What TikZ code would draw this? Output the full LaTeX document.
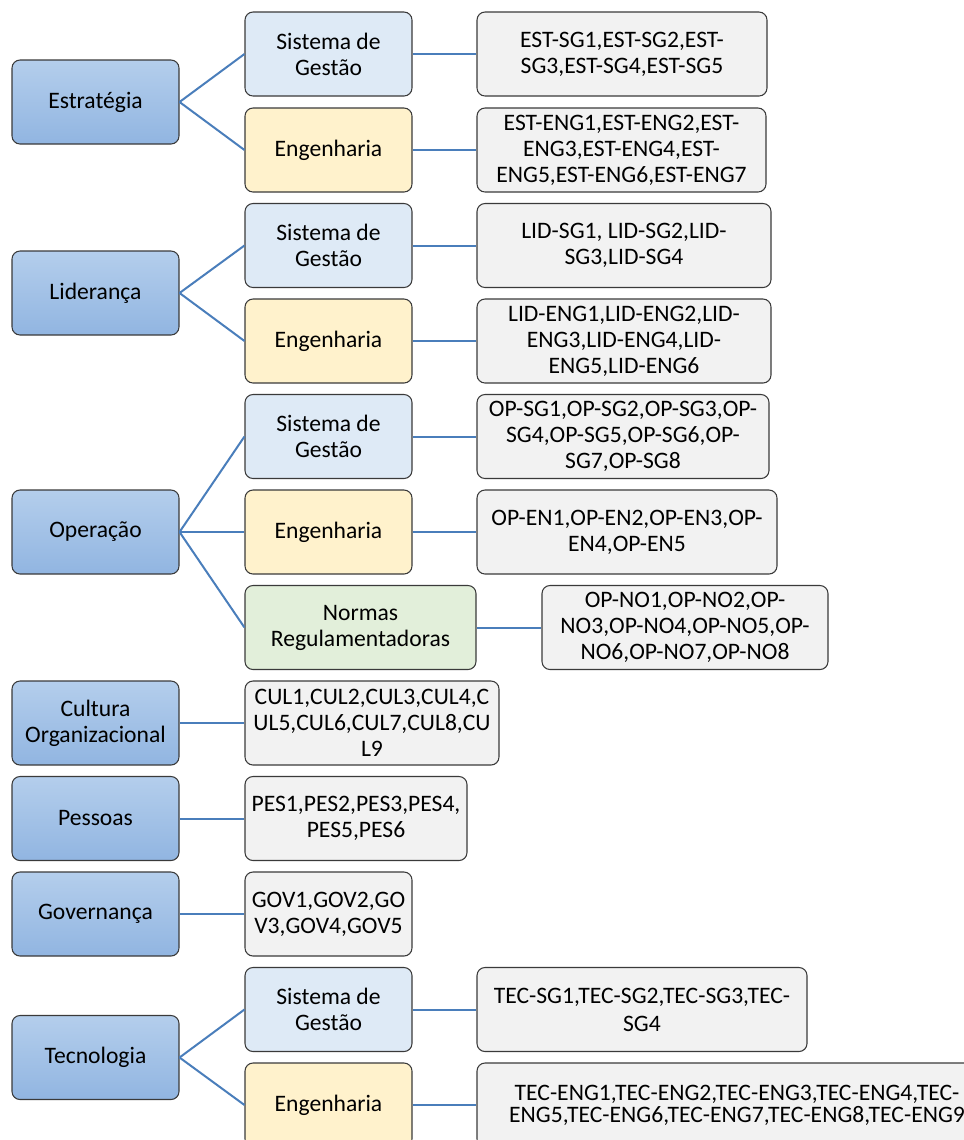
\documentclass[tikz,border=0pt]{standalone}
\usepackage{fontspec}
\setmainfont{Carlito}
\definecolor{mainTop}{HTML}{B4CEEC}
\definecolor{mainBot}{HTML}{91B5E1}
\definecolor{sgFill}{HTML}{DEEAF6}
\definecolor{enFill}{HTML}{FFF2CC}
\definecolor{noFill}{HTML}{E2EFDA}
\definecolor{resFill}{HTML}{F2F2F2}
\definecolor{boxLine}{HTML}{3A3A3A}
\definecolor{linkCol}{HTML}{4A7EBB}
\tikzset{
  basebox/.style={draw=boxLine, line width=0.8pt, rounded corners=6pt, inner sep=0pt, align=center,
    font=\fontsize{17.7pt}{19.5pt}\selectfont, text=black},
  mainbox/.style={basebox, top color=mainTop, bottom color=mainBot, minimum width=125.25pt, minimum height=63pt},
  sgbox/.style={basebox, fill=sgFill, minimum width=125.25pt, minimum height=63pt},
  enbox/.style={basebox, fill=enFill, minimum width=125.25pt, minimum height=63pt},
  nobox/.style={basebox, fill=noFill, minimum height=63pt},
  resbox/.style={basebox, fill=resFill, minimum height=63pt},
  link/.style={draw=linkCol, line width=1.5pt}
}
\begin{document}
\begin{tikzpicture}[x=0.75pt,y=-0.75pt]
\useasboundingbox (0,0) rectangle (964,1140);
\clip (0,0) rectangle (964,1140);
% main boxes
\node[mainbox] (est) at (95.5,102) {Estratégia};
\node[mainbox] (lid) at (95.5,293) {Liderança};
\node[mainbox] (ope) at (95.5,532) {Operação};
\node[mainbox] (cul) at (95.5,723) {Cultura\\Organizacional};
\node[mainbox] (pes) at (95.5,818.5) {Pessoas};
\node[mainbox] (gov) at (95.5,914) {Governança};
\node[mainbox] (tec) at (95.5,1057.5) {Tecnologia};
% sub boxes
\node[sgbox] (estsg) at (328.5,54) {Sistema de\\Gestão};
\node[enbox] (esten) at (328.5,150) {Engenharia};
\node[sgbox] (lidsg) at (328.5,245.5) {Sistema de\\Gestão};
\node[enbox] (liden) at (328.5,341) {Engenharia};
\node[sgbox] (opesg) at (328.5,436.5) {Sistema de\\Gestão};
\node[enbox] (opeen) at (328.5,532) {Engenharia};
\node[nobox, minimum width=173.25pt] (openo) at (360.5,627.5) {Normas\\Regulamentadoras};
\node[sgbox] (tecsg) at (328.5,1009.5) {Sistema de\\Gestão};
\node[enbox] (tecen) at (328.5,1105) {Engenharia};
% result boxes
\node[resbox, minimum width=217.5pt] (restsg) at (622,54) {EST-SG1,EST-SG2,EST-\\SG3,EST-SG4,EST-SG5};
\node[resbox, minimum width=216.75pt] (resten) at (621.5,150) {EST-ENG1,EST-ENG2,EST-\\ENG3,EST-ENG4,EST-\\ENG5,EST-ENG6,EST-ENG7};
\node[resbox, minimum width=220.5pt] (rlidsg) at (624,245.5) {LID-SG1, LID-SG2,LID-\\SG3,LID-SG4};
\node[resbox, minimum width=220.5pt] (rliden) at (624,341) {LID-ENG1,LID-ENG2,LID-\\ENG3,LID-ENG4,LID-\\ENG5,LID-ENG6};
\node[resbox, minimum width=219pt] (ropesg) at (623,436.5) {OP-SG1,OP-SG2,OP-SG3,OP-\\SG4,OP-SG5,OP-SG6,OP-\\SG7,OP-SG8};
\node[resbox, minimum width=225pt] (ropeen) at (627,532) {OP-EN1,OP-EN2,OP-EN3,OP-\\EN4,OP-EN5};
\node[resbox, minimum width=214.5pt] (ropeno) at (685,627.5) {OP-NO1,OP-NO2,OP-\\NO3,OP-NO4,OP-NO5,OP-\\NO6,OP-NO7,OP-NO8};
\node[resbox, minimum width=190.5pt] (rcul) at (372,723) {CUL1,CUL2,CUL3,CUL4,C\\UL5,CUL6,CUL7,CUL8,CU\\L9};
\node[resbox, minimum width=166.5pt] (rpes) at (356,818.5) {PES1,PES2,PES3,PES4,\\PES5,PES6};
\node[resbox, minimum width=125.25pt] (rgov) at (328.5,914) {GOV1,GOV2,GO\\V3,GOV4,GOV5};
\node[resbox, minimum width=247.5pt, font=\fontsize{17.7pt}{21pt}\selectfont] (rtecsg) at (642,1009.5) {TEC-SG1,TEC-SG2,TEC-SG3,TEC-\\SG4};
\node[resbox, minimum width=390pt, font=\fontsize{17.7pt}{16.5pt}\selectfont] (rtecen) at (737,1105) {TEC-ENG1,TEC-ENG2,TEC-ENG3,TEC-ENG4,TEC-\\ENG5,TEC-ENG6,TEC-ENG7,TEC-ENG8,TEC-ENG9};
% connectors
\foreach \a/\b in {est/estsg, est/esten, lid/lidsg, lid/liden, ope/opesg, ope/opeen, ope/openo,
  tec/tecsg, tec/tecen, estsg/restsg, esten/resten, lidsg/rlidsg, liden/rliden, opesg/ropesg,
  opeen/ropeen, openo/ropeno, cul/rcul, pes/rpes, gov/rgov, tecsg/rtecsg, tecen/rtecen}
  \draw[link] (\a.east) -- (\b.west);
\end{tikzpicture}
\end{document}
